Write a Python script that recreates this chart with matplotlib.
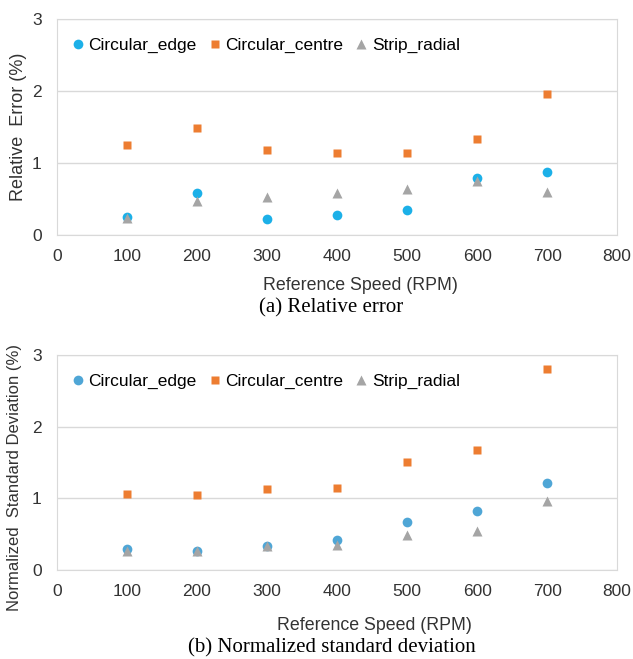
import numpy as np
import matplotlib.pyplot as plt

# Speeds (RPM)
speed = [100, 200, 300, 400, 500, 600, 700]

# (a) Relative error (%)
err_edge = [0.26, 0.58, 0.22, 0.28, 0.35, 0.79, 0.88]
err_centre = [1.25, 1.49, 1.18, 1.14, 1.14, 1.34, 1.96]
err_strip = [0.24, 0.47, 0.53, 0.59, 0.64, 0.76, 0.60]

# (b) Normalized standard deviation (%)
std_edge = [0.29, 0.27, 0.34, 0.42, 0.67, 0.83, 1.21]
std_centre = [1.06, 1.05, 1.13, 1.14, 1.51, 1.67, 2.81]
std_strip = [0.27, 0.26, 0.33, 0.35, 0.49, 0.55, 0.96]

xticks = [0, 100, 200, 300, 400, 500, 600, 700, 800]
yticks = [0, 1, 2, 3]

plt.rcParams['font.family'] = ['Liberation Sans', 'DejaVu Sans']

fig = plt.figure(figsize=(6.33, 6.59), dpi=100)
ax1 = fig.add_axes([0.090, 0.643, 0.885, 0.328])
ax2 = fig.add_axes([0.090, 0.135, 0.885, 0.326])


def style(ax, edge_color, edge, centre, strip, ylabel, ylab_x, ylab_y, ylab_fs, xlab_x, xlab_y):
    ax.plot(speed, edge, 'o', color=edge_color, ms=7, mec='none', label='Circular_edge')
    ax.plot(speed, centre, 's', color='#ED7D31', ms=5.5, mec='none', label='Circular_centre')
    ax.plot(speed, strip, '^', color='#A5A5A5', ms=7, mec='none', label='Strip_radial')
    ax.set_xlim(0, 800)
    ax.set_ylim(0, 3)
    ax.set_xticks(xticks)
    ax.set_yticks(yticks)
    ax.grid(axis='y', color='#D9D9D9', lw=1)
    ax.set_axisbelow(True)
    for s in ax.spines.values():
        s.set_color('#D9D9D9')
    ax.tick_params(length=0, labelsize=12.5, colors='#333333')
    ax.tick_params(axis='x', pad=10)
    ax.tick_params(axis='y', pad=11)
    ax.set_xlabel('Reference Speed (RPM)', fontsize=12.8, color='#333333')
    ax.xaxis.set_label_coords(xlab_x, xlab_y)
    ax.set_ylabel(ylabel, fontsize=ylab_fs, color='#333333')
    ax.yaxis.set_label_coords(ylab_x, ylab_y)
    ax.legend(loc='upper left', bbox_to_anchor=(0.0, 0.97), ncol=3, frameon=False,
              fontsize=12.5, handletextpad=0.1, columnspacing=0.55, handlelength=1.0,
              borderaxespad=0.3)


style(ax1, '#1CB0E8', err_edge, err_centre, err_strip, 'Relative  Error (%)',
      -0.053, 0.5, 13, 0.541, -0.194)
style(ax2, '#4FA6D6', std_edge, std_centre, std_strip, 'Normalized  Standard Deviation (%)',
      -0.062, 0.43, 12, 0.566, -0.219)

fig.text(0.523, 1 - 308 / 659, '(a) Relative error', ha='center', va='center',
         fontsize=15, family='Liberation Serif')
fig.text(0.524, 1 - 648 / 659, '(b) Normalized standard deviation', ha='center', va='center',
         fontsize=15, family='Liberation Serif')

fig.savefig('out.png', dpi=100)
